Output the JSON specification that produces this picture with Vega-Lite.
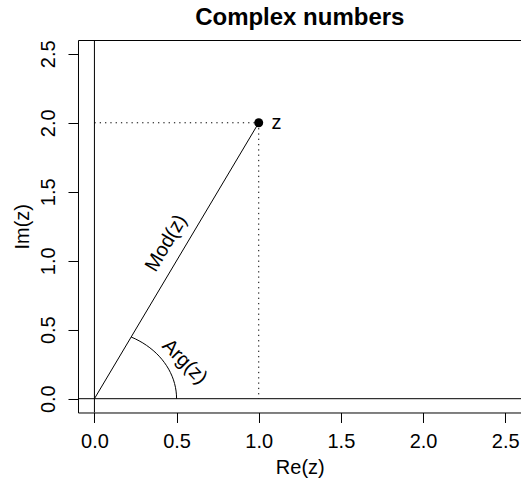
{
  "$schema": "https://vega.github.io/schema/vega-lite/v6.json",
  "autosize": {"type": "none"},
  "padding": {"left": 78, "top": 40, "right": 0, "bottom": 70},
  "width": 443.6,
  "height": 372.5,
  "title": {"text": "Complex numbers", "font": "Liberation Sans", "fontSize": 24, "fontWeight": "bold", "color": "black", "anchor": "middle", "baseline": "bottom", "offset": 11, "dy": 25},
  "config": {
    "view": {"stroke": "black", "strokeWidth": 1},
    "font": "Liberation Sans",
    "axis": {"grid": false, "domain": false, "tickColor": "black", "tickSize": 10, "tickWidth": 1, "labelColor": "black", "labelFont": "Liberation Sans", "labelFontSize": 20, "titleFont": "Liberation Sans", "titleFontSize": 20, "titleFontWeight": "normal", "titleColor": "black"}
  },
  "datasets": {
    "hline": [{"y": 0}],
    "vline": [{"x": 0}],
    "segs": [
      {"x": 0, "y": 0, "x2": 1, "y2": 2, "kind": "solid"}
    ],
    "dots": [
      {"x": 0, "y": 2, "x2": 1, "y2": 2},
      {"x": 1, "y": 2, "x2": 1, "y2": 0}
    ],
    "pt": [{"x": 1, "y": 2}],
    "arc": [
      {"i": 0, "x": 0.5, "y": 0},
      {"i": 1, "x": 0.4992, "y": 0.0277},
      {"i": 2, "x": 0.4969, "y": 0.0552},
      {"i": 3, "x": 0.4931, "y": 0.0827},
      {"i": 4, "x": 0.4878, "y": 0.1098},
      {"i": 5, "x": 0.4810, "y": 0.1366},
      {"i": 6, "x": 0.4727, "y": 0.1630},
      {"i": 7, "x": 0.4629, "y": 0.1890},
      {"i": 8, "x": 0.4518, "y": 0.2142},
      {"i": 9, "x": 0.4392, "y": 0.2390},
      {"i": 10, "x": 0.4253, "y": 0.2629},
      {"i": 11, "x": 0.4102, "y": 0.2860},
      {"i": 12, "x": 0.3937, "y": 0.3082},
      {"i": 13, "x": 0.3761, "y": 0.3295},
      {"i": 14, "x": 0.3573, "y": 0.3498},
      {"i": 15, "x": 0.3374, "y": 0.3690},
      {"i": 16, "x": 0.3164, "y": 0.3871},
      {"i": 17, "x": 0.2946, "y": 0.4041},
      {"i": 18, "x": 0.2717, "y": 0.4197},
      {"i": 19, "x": 0.2481, "y": 0.4341},
      {"i": 20, "x": 0.2236, "y": 0.4472}
    ],
    "zlab": [{"x": 1.108, "y": 2.0, "label": "z"}],
    "modlab": [{"x": 0.437, "y": 1.128, "label": "Mod(z)"}],
    "arglab": [{"x": 0.549, "y": 0.268, "label": "Arg(z)"}]
  },
  "layer": [
    {
      "data": {"name": "segs"},
      "mark": {"type": "rule", "color": "black", "strokeWidth": 1},
      "encoding": {
        "x": {"field": "x", "type": "quantitative", "scale": {"domain": [-0.1, 2.6], "nice": false, "zero": false}, "axis": {"title": "Re(z)", "values": [0, 0.5, 1, 1.5, 2, 2.5], "format": ".1f", "labelPadding": 9, "titlePadding": 6}},
        "y": {"field": "y", "type": "quantitative", "scale": {"domain": [-0.1, 2.6], "nice": false, "zero": false}, "axis": {"title": "Im(z)", "values": [0, 0.5, 1, 1.5, 2, 2.5], "format": ".1f", "labelAngle": -90, "labelAlign": "center", "labelBaseline": "bottom", "labelPadding": 9, "titlePadding": 6}},
        "x2": {"field": "x2"},
        "y2": {"field": "y2"}
      }
    },
    {
      "data": {"name": "hline"},
      "mark": {"type": "rule", "color": "black", "strokeWidth": 1},
      "encoding": {"y": {"field": "y", "type": "quantitative"}}
    },
    {
      "data": {"name": "vline"},
      "mark": {"type": "rule", "color": "black", "strokeWidth": 1},
      "encoding": {"x": {"field": "x", "type": "quantitative"}}
    },
    {
      "data": {"name": "dots"},
      "mark": {"type": "rule", "color": "black", "strokeWidth": 1, "strokeDash": [1.3, 4]},
      "encoding": {
        "x": {"field": "x", "type": "quantitative"},
        "y": {"field": "y", "type": "quantitative"},
        "x2": {"field": "x2"},
        "y2": {"field": "y2"}
      }
    },
    {
      "data": {"name": "arc"},
      "mark": {"type": "line", "color": "black", "strokeWidth": 1},
      "encoding": {
        "x": {"field": "x", "type": "quantitative"},
        "y": {"field": "y", "type": "quantitative"},
        "order": {"field": "i", "type": "quantitative"}
      }
    },
    {
      "data": {"name": "pt"},
      "mark": {"type": "point", "filled": true, "color": "black", "size": 80, "opacity": 1},
      "encoding": {
        "x": {"field": "x", "type": "quantitative"},
        "y": {"field": "y", "type": "quantitative"}
      }
    },
    {
      "data": {"name": "zlab"},
      "mark": {"type": "text", "fontSize": 20, "color": "black", "align": "center", "baseline": "middle"},
      "encoding": {
        "x": {"field": "x", "type": "quantitative"},
        "y": {"field": "y", "type": "quantitative"},
        "text": {"field": "label"}
      }
    },
    {
      "data": {"name": "modlab"},
      "mark": {"type": "text", "fontSize": 20, "color": "black", "align": "center", "baseline": "middle", "angle": 300.7},
      "encoding": {
        "x": {"field": "x", "type": "quantitative"},
        "y": {"field": "y", "type": "quantitative"},
        "text": {"field": "label"}
      }
    },
    {
      "data": {"name": "arglab"},
      "mark": {"type": "text", "fontSize": 20, "color": "black", "align": "center", "baseline": "middle", "angle": 45},
      "encoding": {
        "x": {"field": "x", "type": "quantitative"},
        "y": {"field": "y", "type": "quantitative"},
        "text": {"field": "label"}
      }
    }
  ]
}
